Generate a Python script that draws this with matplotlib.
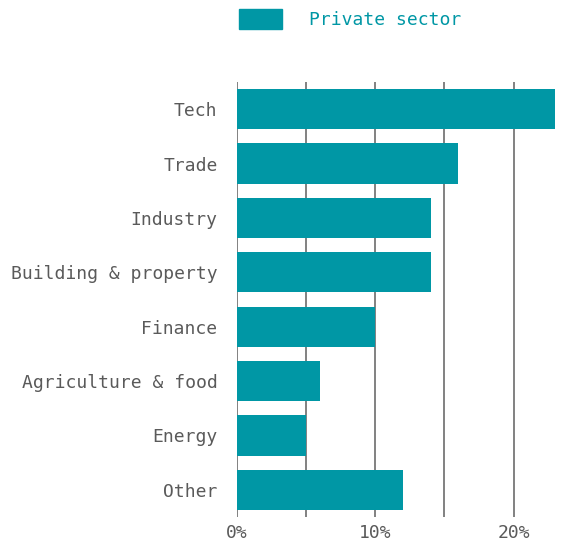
import matplotlib.pyplot as plt
from matplotlib.patches import Patch

# share of each sector, in %
secteurs = ['Tech', 'Trade', 'Industry', 'Building & property', 'Finance',
            'Agriculture & food', 'Energy', 'Other']
valeurs = [23, 16, 14, 14, 10, 6, 5, 12]

couleur = '#0097a5'
gris = '#5a5a5a'

plt.rcParams['font.family'] = 'DejaVu Sans Mono'

fig = plt.figure(figsize=(5.61, 5.45), dpi=100)
ax = fig.add_axes([237/561, 1-517/545, 318/561, 435/545])

yy = list(range(len(secteurs)))
ax.barh(yy, valeurs, height=0.74, color=couleur, zorder=3)

# vertical grid every 5%
for xg in [0, 5, 10, 15, 20]:
    ax.axvline(xg, color='#777777', linewidth=1.3, zorder=1)

ax.set_xlim(0, 23)
ax.set_ylim(len(secteurs)-0.5, -0.5)
ax.set_yticks(yy)
ax.set_yticklabels(secteurs)
ax.set_xticks([0, 10, 20])
ax.set_xticklabels(['0%', '10%', '20%'])
ax.tick_params(axis='y', length=0, pad=14, labelsize=13, labelcolor=gris)
ax.tick_params(axis='x', length=0, pad=5, labelsize=13, labelcolor=gris)
for s in ax.spines.values():
    s.set_visible(False)

ax.legend(handles=[Patch(color=couleur, label='Private sector')],
          loc='upper left', bbox_to_anchor=(239/561, 1-9/545),
          bbox_transform=fig.transFigure, frameon=False, fontsize=13,
          labelcolor=couleur, handlelength=2.4, handleheight=1.35,
          handletextpad=1.5, borderpad=0, borderaxespad=0)

plt.savefig('out.png', dpi=100)
